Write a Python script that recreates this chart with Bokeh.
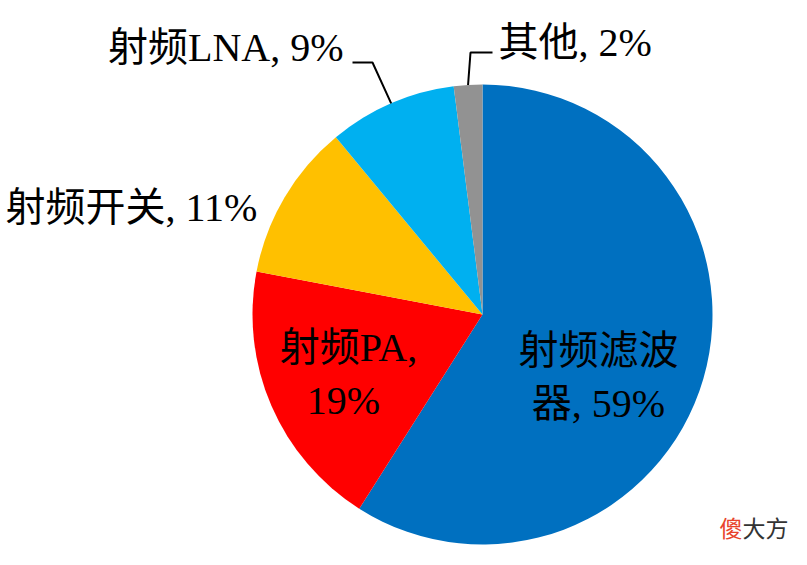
import math
from bokeh.plotting import figure
from bokeh.models import Range1d, ColumnDataSource
from bokeh.core.properties import value
from bokeh.embed import file_html
from bokeh.resources import INLINE

# ---- data ----
categories = ["射频滤波器", "射频PA", "射频开关", "射频LNA", "其他"]
shares = [59, 19, 11, 9, 2]
colors = ["#0070C0", "#FF0000", "#FFC000", "#00B0F0", "#929292"]

# ---- layout (x = screen px, y = 565 - screen y) ----
W, H = 791, 549
CX, CY, R = 482, 565 - 314, 230
FONT = "Liberation Serif, Noto Sans CJK SC"

p = figure(width=W, height=H, output_backend="svg", toolbar_location=None,
           x_range=Range1d(0, W), y_range=Range1d(565 - H, 565),
           min_border=0)
p.axis.visible = False
p.grid.visible = False
p.outline_line_color = None
p.background_fill_color = "white"
p.border_fill_color = "white"

# wedges, clockwise from 12 o'clock
starts, ends, mids = [], [], []
a = math.pi / 2
for s in shares:
    span = s / sum(shares) * 2 * math.pi
    starts.append(a - span)
    ends.append(a)
    mids.append(a - span / 2)
    a -= span

src = ColumnDataSource(dict(start=starts, end=ends, color=colors))
p.wedge(x=CX, y=CY, radius=R, start_angle="start", end_angle="end",
        fill_color="color", line_color=None, source=src)

# labels
texts = [f"{c}, {v}%" for c, v in zip(categories, shares)]
breaks = [4, 5, None, None, None]            # where a label wraps
anchors = [  # (x, screen y of first line, align)
    (598, 350, "center"),
    (348, 347, "center"),
    (5, 207, "left"),
    (343, 47, "right"),
    (498, 42, "left"),
]
LINE_GAP = 53
lx, ly, lt, la = [], [], [], []
for t, b, (x, y, al) in zip(texts, breaks, anchors):
    if b is None:
        lines = [t]
    else:
        first, rest = t[:b], t[b:]
        if rest.startswith(","):
            rest = rest[1:].strip()
        lines = [first, rest]
    for i, ln in enumerate(lines):
        lx.append(x)
        ly.append(565 - (y + i * LINE_GAP))
        lt.append(ln)
        la.append(al)
lsrc = ColumnDataSource(dict(x=lx, y=ly, text=lt, align=la))
p.text(x="x", y="y", text="text", text_align="align", text_baseline="middle",
       text_font=value(FONT), text_font_size="40px", text_color="black",
       source=lsrc)

# leader lines for the two small slices
elbows = {3: [(372, 62), (352, 62)], 4: [(470, 52), (492, 52)]}
for idx, pts in elbows.items():
    ex = CX + R * math.cos(mids[idx])
    ey = CY + R * math.sin(mids[idx])
    xs = [ex] + [q[0] for q in pts]
    ys = [ey] + [565 - q[1] for q in pts]
    p.line(xs, ys, line_color="black", line_width=2)

# watermark
p.text(x=[719], y=[565 - 526], text=["傻"], text_baseline="middle",
       text_font=value("Noto Sans CJK SC"), text_font_size="23px",
       text_color="#E8432B")
p.text(x=[742], y=[565 - 526], text=["大方"], text_baseline="middle",
       text_font=value("Noto Sans CJK SC"), text_font_size="23px",
       text_color="#333333")

open("out.html", "w").write(file_html(p, INLINE))
